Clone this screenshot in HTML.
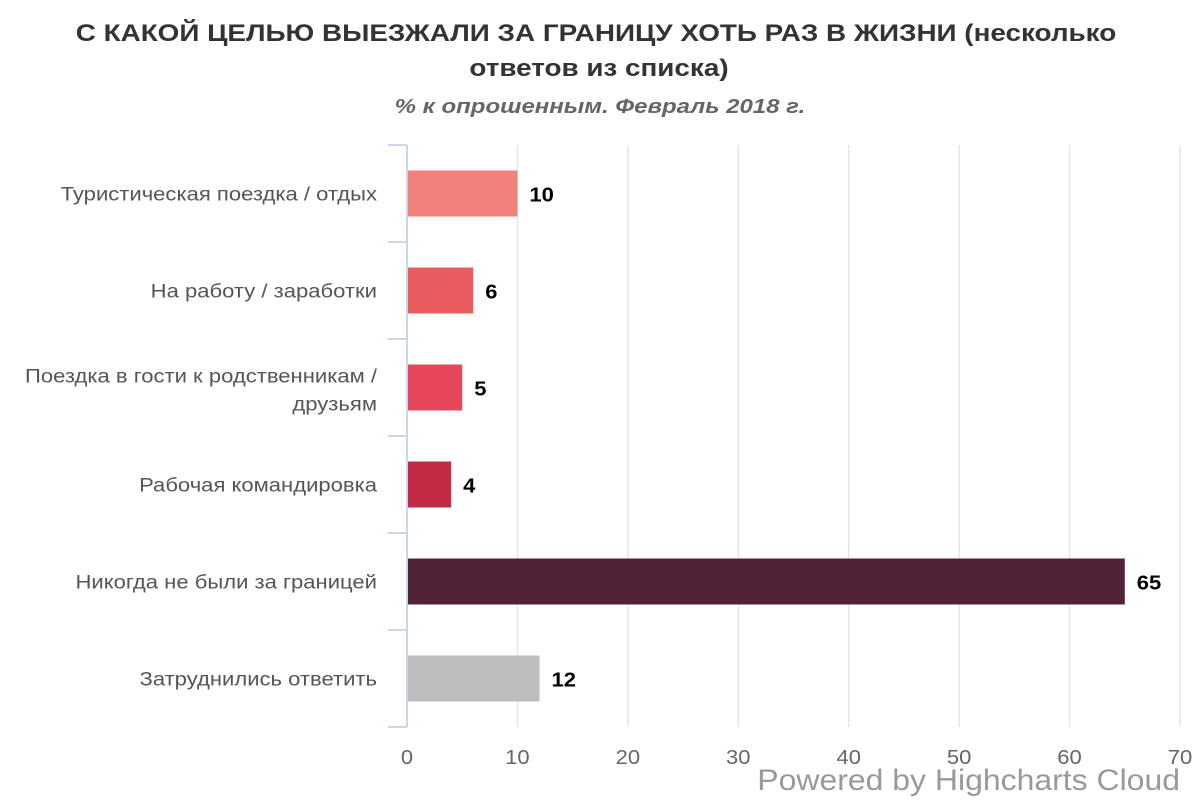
<!DOCTYPE html>
<html><head><meta charset="utf-8">
<style>
body{margin:0;background:#fff;font-family:"Liberation Sans",sans-serif;}
svg text{font-family:"Liberation Sans","DejaVu Sans",sans-serif;}
</style></head>
<body>
<svg id="chart" width="1200" height="800" xmlns="http://www.w3.org/2000/svg">
<text class="s16" x="596" y="41" text-anchor="middle" font-size="24" font-weight="bold" fill="#333">С КАКОЙ ЦЕЛЬЮ ВЫЕЗЖАЛИ ЗА ГРАНИЦУ ХОТЬ РАЗ В ЖИЗНИ (несколько</text>
<text class="s16" x="599" y="76" text-anchor="middle" font-size="24" font-weight="bold" fill="#333">ответов из списка)</text>
<text class="s20" x="600" y="113" text-anchor="middle" font-size="20" font-weight="bold" font-style="italic" fill="#666">% к опрошенным. Февраль 2018 г.</text>
<g id="grid"></g><g id="bars"></g><g id="labels"></g>
<text class="s06" x="1180" y="790" text-anchor="end" font-size="30" fill="#999">Powered by Highcharts Cloud</text>
</svg>
<script>
const categories=[["Туристическая поездка / отдых"],["На работу / заработки"],["Поездка в гости к родственникам /","друзьям"],["Рабочая командировка"],["Никогда не были за границей"],["Затруднились ответить"]];
const values=[10,6,5,4,65,12];
const colors=["#f2807b","#e85c5f","#e6475c","#c12945","#522336","#bdbec0"];
const ticks=[0,10,20,30,40,50,60,70];
const NS="http://www.w3.org/2000/svg";
const L=407,R=1180,T=145,B=727,MAX=70;
const band=(B-T)/categories.length;
const x=v=>L+v/MAX*(R-L);
const y=i=>T+i*band;
function mk(tag,a,p,txt){const e=document.createElementNS(NS,tag);for(const k in a)e.setAttribute(k,a[k]);if(txt!==undefined)e.textContent=txt;p.appendChild(e);return e;}
const g=document.getElementById('grid'),gb=document.getElementById('bars'),gl=document.getElementById('labels');
ticks.forEach(t=>{
 if(t>0){const l=mk('line',{x1:x(t),x2:x(t),y1:T,y2:B,stroke:"#e6e6e6","stroke-width":1.5},g);
 
 }
 const tx=mk('text',{x:x(t),y:B+37,"text-anchor":"middle","font-size":20,fill:"#666","class":"s10"},gl,String(t));
 
 
});
const ax=mk('line',{x1:L,x2:L,y1:T,y2:B,stroke:"#ccd6eb","stroke-width":2},g);


for(let i=0;i<=categories.length;i++){
 const tk=mk('line',{x1:388,x2:L,y1:y(i),y2:y(i),stroke:"#ccd6eb","stroke-width":2},g);
 
 
}
categories.forEach((c,i)=>{
 const cy=y(i)+band/2, bh=46;
 const r=mk('rect',{x:L+1,y:cy-bh/2,width:x(values[i])-L-1,height:bh,fill:colors[i]},gb);
 
 
 const v=mk('text',{x:x(values[i])+12,y:cy+8,"font-size":20,"font-weight":"bold",fill:"#000","class":"s10"},gl,String(values[i]));
 
 
 const n=c.length, y0=n>1?cy-5:cy+7;
 c.forEach((line,j)=>{
  const t=mk('text',{x:377,y:y0+j*28,"text-anchor":"end","font-size":19,fill:"#555","class":"s16"},gl,line);
  
  
 });
});
[["s16",1.16],["s20",1.2],["s10",1.1],["s06",1.065]].forEach(([c,k])=>{
 document.querySelectorAll('text.'+c).forEach(t=>{
  const w=t.getComputedTextLength();
  t.setAttribute('textLength',(w*k).toFixed(1));
  t.setAttribute('lengthAdjust','spacingAndGlyphs');
 });
});
</script>
</body></html>
